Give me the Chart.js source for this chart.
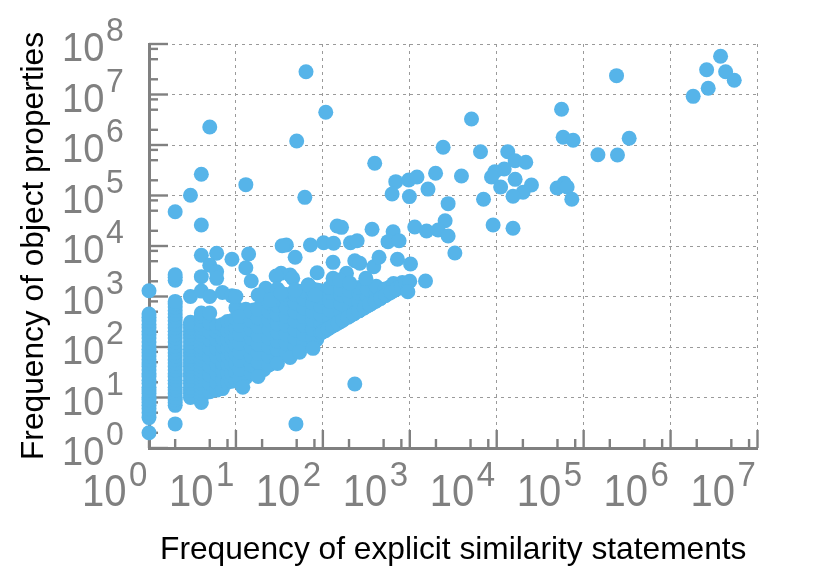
<!DOCTYPE html>
<html>
<head>
<meta charset="utf-8">
<style>html,body{margin:0;padding:0;background:#fff}#w{width:830px;height:577px}</style>
<script src="https://cdn.jsdelivr.net/npm/chart.js@4/dist/chart.umd.min.js"></script>
</head>
<body>
<div id="w"><canvas id="c" width="830" height="577"></canvas></div>
<script>
const xTitle = 'Frequency of explicit similarity statements';
const yTitle = 'Frequency of object properties';
const xDecades = [0,1,2,3,4,5,6,7];
const yDecades = [0,1,2,3,4,5,6,7,8];
const minorMultipliers = [2,5,8];

// Dense part of the cloud: one similarity count per column, and the property counts read in it.
const columnX = [1,2,3,4,5,6,7,8,9,10,13,16,21,27,34,43,54,68,85,107,140,180,230,290,365,460,580,730,
 11,15,18,24,30,38,48,60,76,95,120,160,205,260,325,410,520,650,820];
const columnY = [
 [4,5,6,7,8,9,10,12,14,16,19,22,26,30,35,41,48,56,66,77,90,105,125,150,175,205,240,280,330,390,450],
 [7,8,9,10,12,14,16,19,22,26,30,35,41,48,56,66,77,90,105,125,150,175,205,240,280,330,390,450,530,620,720,800,2100,2400,2700],
 [10,12,14,16,19,22,26,30,35,41,48,56,66,77,90,105,125,150,175,205,240,280,310],
 [8,10,12,14,16,19,22,26,30,35,41,48,56,66,77,90,105,125,150,175,205,240,280,330,400,470],
 [13,19,28,42,63,95,140,200,300,470],
 [14,20,30,45,65,95,140,200,260],
 [15,22,33,48,70,105,150,220,280],
 [20,30,45,65,95,140,210,320],
 [21,31,46,70,100,150,220,330],
 [22,32,48,72,108,160,240,360,600],
 [25,37,55,82,120,180,270,400,560],
 [32,48,72,108,160,240,360,540],
 [36,54,80,120,180,270,400,600,850],
 [50,75,110,165,250,370,550,800],
 [70,105,155,230,350,520,780,950],
 [88,130,200,300,450,670,1000],
 [110,165,250,370,550,820,1200],
 [125,190,280,420,630,950,1450],
 [140,210,320,480,720,1100,1350],
 [210,320,480,720,1080],
 [280,420,630,950,1200],
 [370,550,820,1200],
 [460,700,1050,1200],
 [580,870,1300],
 [730,1100,1500],
 [920,1300],
 [1160,1500],
 [1460,1700],
 [24,36,54,80,120,180,270,400],
 [30,44,66,100,150,220,330,500],
 [34,50,76,114,170,255,380,570],
 [44,66,100,150,225,340,500,750],
 [58,88,130,195,290,440,660,900],
 [80,120,180,270,400,600,900,1100],
 [98,150,220,330,500,750,1100],
 [120,180,270,400,600,900,1300],
 [150,225,340,500,750,1100,1400],
 [190,285,430,640,960,1300],
 [240,360,540,810,1200,1500],
 [320,480,720,1080,1400],
 [410,620,930,1300],
 [520,780,1170,1500],
 [650,980,1400],
 [820,1230,1600],
 [1040,1400],
 [1300,1600,1800],
 [1640,1900]
];
// Points on the lower edge of the band.
const edgeX = [100,115,130,150,170,195,225,260,300,345,400,460,530,610,700,800,900,1000];
const edgeY = [200,230,260,300,340,390,450,520,600,690,800,920,1060,1220,1400,1600,1800,2000];
// Lower-edge stragglers below the band.
const lowX = [12,18,30,42,54,77,233,49,2,1,1];
const lowY = [16,26,47,62,79,94,18.5,3,3,2,1300];
// Points that stand apart.
const scatterX = [64,108,5,50,395,2420,4,13,690,973,1210,1980,3930,3,62,626,990,1620,2,2760,4,2550,146,164,368,643,1140,1560,2120,2760,
 3760000,2600000,4300000,5400000,2710000,1820000,239000,55700,5130,58100,75700,334000,146000,245000,6510,13400,16300,21600,12200,9510,8710,16300,25100,20100,11100,15400,7050,49500,59700,64600,73100,9090,15400,3300,
 4,6,9,14,13,5,6,4,6,15,38,34,48,72,102,133,208,248,562,753,721,1020,385,443,233,266,131,86,33,42,45,29,131,312,187,156,68,204,1517,950,3,4,5,7,9,10,22,18,30,25,33,48,68,82];
const scatterY = [28300000,4440000,2270000,1200000,434000,900000,263000,164000,188000,203000,232000,275000,243000,101000,92000,107000,95000,134000,47800,69000,26000,31700,24900,23400,21400,19200,23800,19800,20700,15800,
 57100000,31000000,28300000,19100000,13300000,9200000,23600000,5090000,3270000,1420000,1240000,1360000,643000,634000,737000,737000,489000,454000,335000,296000,232000,209000,161000,116000,147000,96400,84100,141000,175000,147000,84100,26000,22400,7270,
 6540,7170,5460,6950,3720,4150,3100,2470,2290,2030,10500,10100,5970,10500,11600,11300,11600,12700,12200,12700,5460,4400,3890,5970,5120,4540,4750,2960,2880,2670,2290,2550,2290,2290,2880,2120,1690,1850,2030,1245,1000,1280,1000,1200,1030,1000,1450,1070,1400,850,1170,1350,1680,1070];

const points = [];
columnX.forEach((x, i) => columnY[i].forEach(y => points.push({x, y})));
edgeX.forEach((x, i) => points.push({x, y: edgeY[i]}));
lowX.forEach((x, i) => points.push({x, y: lowY[i]}));
scatterX.forEach((x, i) => points.push({x, y: scatterY[i]}));

const GRAY = '#808080';
const FONT = '"Liberation Sans", Arial, sans-serif';

function tallText(ctx, text, x, y, stretch) {
  ctx.save();
  ctx.translate(x, y);
  ctx.scale(1, stretch);
  ctx.fillText(text, 0, 0);
  ctx.restore();
}

const axisDecor = {
  id: 'axisDecor',
  beforeDatasetsDraw(chart) {
    const {ctx, scales: {x, y}} = chart;
    ctx.save();
    ctx.strokeStyle = GRAY;
    ctx.lineWidth = 2.4;
    const tickX = (v, len) => { const p = x.getPixelForValue(v); ctx.beginPath(); ctx.moveTo(p, y.bottom); ctx.lineTo(p, y.bottom - len); ctx.stroke(); };
    const tickY = (v, len) => { const p = y.getPixelForValue(v); ctx.beginPath(); ctx.moveTo(x.left, p); ctx.lineTo(x.left + len, p); ctx.stroke(); };
    xDecades.forEach(d => {
      tickX(10 ** d, 18);
      if (d < 7) minorMultipliers.forEach(m => tickX(m * 10 ** d, 9));
    });
    yDecades.forEach(d => {
      tickY(10 ** d, 19);
      if (d < 8) minorMultipliers.forEach(m => tickY(m * 10 ** d, 9));
    });
    ctx.restore();
  },
  afterDraw(chart) {
    const {ctx, scales: {x, y}} = chart;
    ctx.save();
    ctx.fillStyle = GRAY;
    ctx.textAlign = 'left';
    ctx.textBaseline = 'alphabetic';
    xDecades.forEach(d => {
      const p = x.getPixelForValue(10 ** d);
      ctx.font = '40px ' + FONT;
      tallText(ctx, '10', p - 67, 506, 1.1);
      ctx.font = '33px ' + FONT;
      tallText(ctx, String(d), p - 20, 486, 1.05);
    });
    yDecades.forEach(d => {
      const p = y.getPixelForValue(10 ** d);
      ctx.font = '38px ' + FONT;
      tallText(ctx, '10', 62, p + 17, 1.05);
      ctx.font = '32px ' + FONT;
      tallText(ctx, String(d), 106, p - 3, 1.05);
    });
    ctx.restore();
  }
};

new Chart(document.getElementById('c'), {
  type: 'scatter',
  data: { datasets: [{
    data: points,
    backgroundColor: '#56B4E9',
    borderWidth: 0,
    pointRadius: 7.5,
    clip: false
  }]},
  plugins: [axisDecor],
  options: {
    responsive: false,
    animation: false,
    devicePixelRatio: 1,
    layout: { padding: { top: 44, right: 72.5, left: 0, bottom: 0 } },
    plugins: { legend: { display: false }, tooltip: { enabled: false } },
    scales: {
      x: {
        type: 'logarithmic', min: 1, max: 1e7,
        afterBuildTicks(s) { s.ticks = xDecades.map(d => ({value: 10 ** d, major: true})); },
        afterFit(s) { s.height = 129; },
        ticks: { display: false },
        grid: { color: '#9a9a9a', lineWidth: 1, drawTicks: false },
        border: { color: GRAY, width: 3, dash: [3, 4] },
        title: { display: true, text: xTitle, color: '#000', font: { family: FONT, size: 31.7 }, padding: { top: 0, bottom: 8 } }
      },
      y: {
        type: 'logarithmic', min: 1, max: 1e8,
        afterBuildTicks(s) { s.ticks = yDecades.map(d => ({value: 10 ** d, major: true})); },
        afterFit(s) { s.width = 149; },
        ticks: { display: false },
        grid: { color: '#9a9a9a', lineWidth: 1, drawTicks: false },
        border: { color: GRAY, width: 3, dash: [3, 4] },
        title: { display: true, text: yTitle, color: '#000', font: { family: FONT, size: 31.7 }, padding: { top: 15, bottom: 0 } }
      }
    }
  }
});
</script>
</body>
</html>
